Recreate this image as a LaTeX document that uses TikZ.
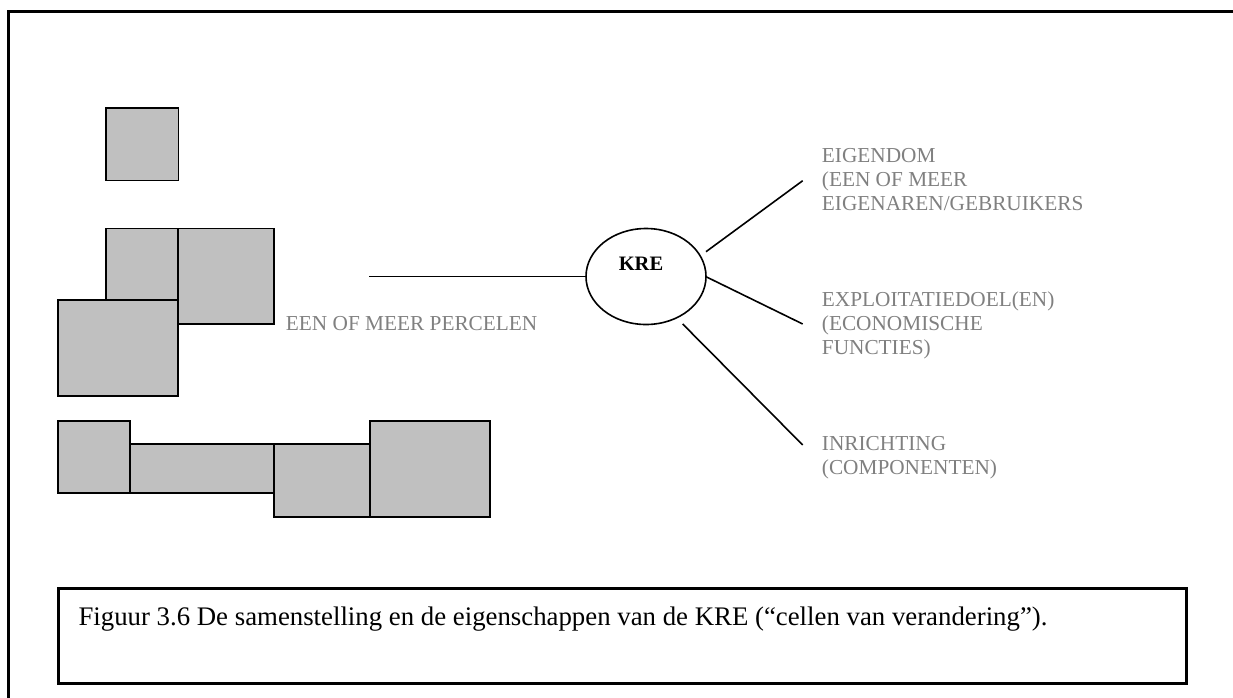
\documentclass[tikz,border=0pt]{standalone}
\usepackage{fontspec}
\setmainfont{Liberation Serif}
\usetikzlibrary{shapes.geometric}
\definecolor{parcelgray}{HTML}{C0C0C0}
\definecolor{labelgray}{HTML}{808080}
\begin{document}
\begin{tikzpicture}[x=1pt,y=-1pt,
  parcel/.style={draw=black, fill=parcelgray, line width=1.8pt},
  link/.style={draw=black, line width=1.6pt},
  framebox/.style={draw=black, line width=3pt},
  % multi-line labels sit on the baseline of their last line
  prop/.style={anchor=base west, align=left, inner sep=0pt, text=labelgray,
    font=\fontsize{21.3}{24}\selectfont},
]
\useasboundingbox (0,0) rectangle (1233,697);

% outer frame, running off the right and bottom edges
\begin{scope}
  \clip (0,0) rectangle (1233,697);
  \draw[framebox] (8.5,11) rectangle (1260,730);
\end{scope}

% single parcel
\draw[parcel] (106,108) rectangle (178.5,180.5);

% cluster of three parcels
\draw[parcel] (106,228.5) rectangle (178,300);
\draw[parcel] (178,228.5) rectangle (274,324);
\draw[parcel] (58,300) rectangle (178,396);

% row of four parcels
\draw[parcel] (58,420.7) rectangle (130,492.7);
\draw[parcel] (130,444) rectangle (274,492.7);
\draw[parcel] (274,444) rectangle (370,516.7);
\draw[parcel] (370,420.7) rectangle (490,516.7);

\node[prop] (lots) at (285.7,330) {EEN OF MEER PERCELEN};

% the KRE and its properties
\node[ellipse, draw=black, line width=1.6pt, minimum width=120pt,
      minimum height=96pt, inner sep=0pt] (kre) at (646,276.5) {};
\node[font=\bfseries\fontsize{20.5}{24}\selectfont, anchor=base, inner sep=0pt]
  (kretext) at (641,270.7) {KRE};

\coordinate (lotsend) at (369.3,276.5);
\draw[link] (lotsend) -- (kre.west);

\coordinate (o1) at (706,251.7);
\coordinate (o2) at (802.7,180.7);
\coordinate (e1) at (706,276.7);
\coordinate (e2) at (802.7,324);
\coordinate (i1) at (682.7,324);
\coordinate (i2) at (802.7,445);
\draw[link] (o1) -- (o2);
\draw[link] (e1) -- (e2);
\draw[link] (i1) -- (i2);

\node[prop] (owner) at (821.7,210)
  {EIGENDOM\\(EEN OF MEER\\EIGENAREN/GEBRUIKERS};
\node[prop] (use) at (821.7,354)
  {EXPLOITATIEDOEL(EN)\\(ECONOMISCHE\\FUNCTIES)};
\node[prop] (layout) at (821.7,474)
  {INRICHTING\\(COMPONENTEN)};

% caption box
\draw[framebox] (58,588) rectangle (1186,683);
\node[anchor=base west, inner sep=0pt, font=\fontsize{26.8}{30}\selectfont]
  (caption) at (78.3,625)
  {Figuur 3.6 De samenstelling en de eigenschappen van de KRE (“cellen van verandering”).};
\end{tikzpicture}
\end{document}
